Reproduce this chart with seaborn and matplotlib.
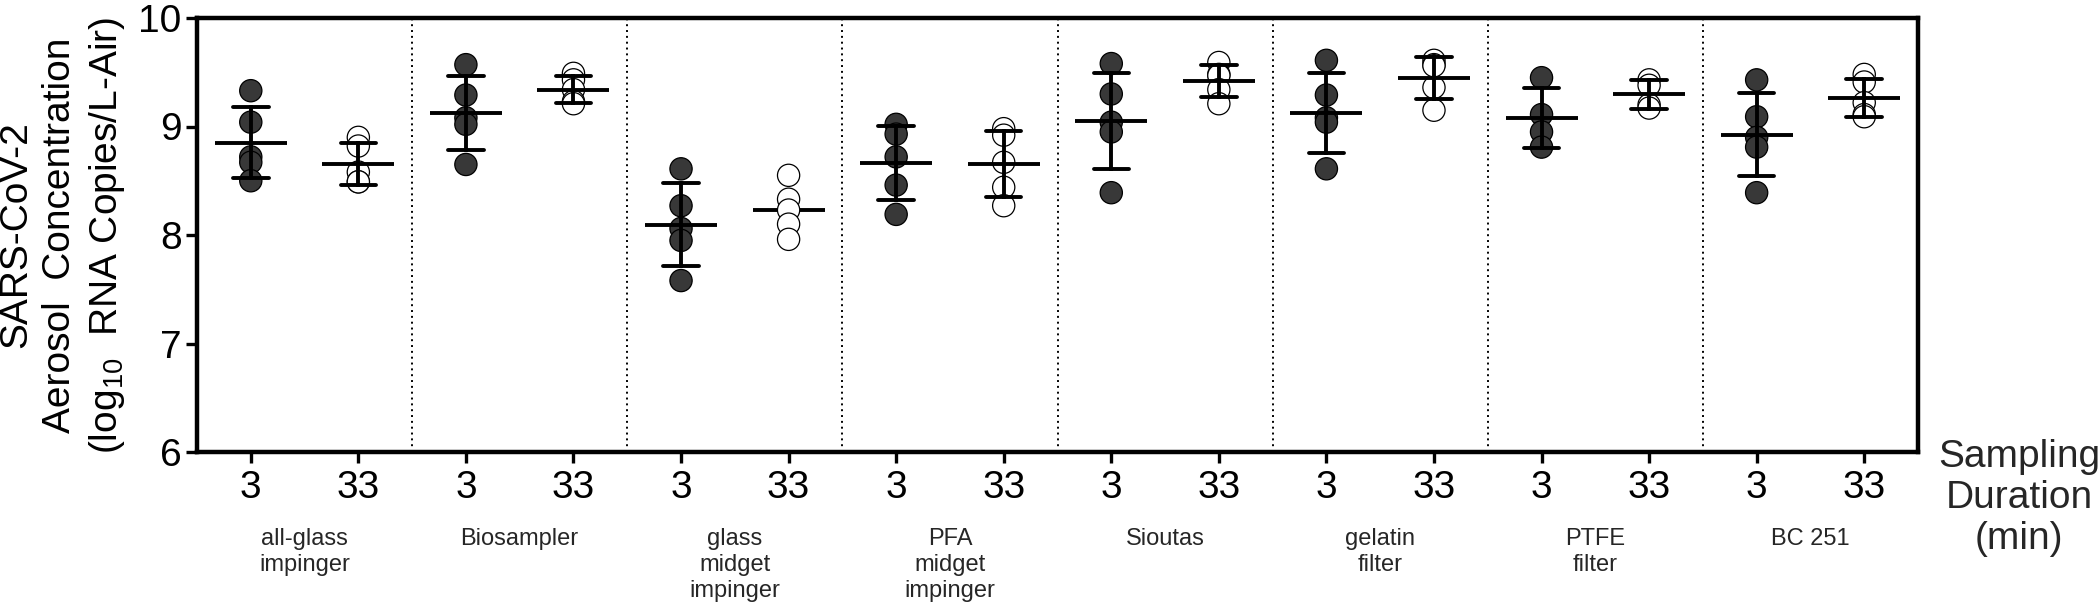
import matplotlib
matplotlib.use("Agg")
import matplotlib.pyplot as plt
import pandas as pd
import seaborn as sns

# Muestreadores y tiempos de muestreo (min)
samplers = ["all-glass\nimpinger", "Biosampler", "glass\nmidget\nimpinger",
            "PFA\nmidget\nimpinger", "Sioutas", "gelatin\nfilter",
            "PTFE\nfilter", "BC 251"]
durations = ["3", "33"]

# log10 RNA copies / L-air
conc_3min = [
    [9.33, 9.04, 8.72, 8.67, 8.50],
    [9.57, 9.29, 9.08, 9.02, 8.65],
    [8.61, 8.27, 8.06, 7.95, 7.58],
    [9.02, 8.93, 8.72, 8.46, 8.19],
    [9.58, 9.30, 9.04, 8.95, 8.39],
    [9.61, 9.29, 9.08, 9.04, 8.61],
    [9.45, 9.11, 8.95, 8.81],
    [9.43, 9.09, 8.90, 8.81, 8.39],
]
conc_33min = [
    [8.90, 8.82, 8.58, 8.49, 8.49],
    [9.49, 9.43, 9.34, 9.23, 9.21],
    [8.55, 8.33, 8.23, 8.10, 7.96],
    [8.98, 8.92, 8.67, 8.44, 8.27],
    [9.59, 9.48, 9.47, 9.34, 9.21],
    [9.61, 9.57, 9.56, 9.36, 9.15],
    [9.43, 9.38, 9.20, 9.17],
    [9.48, 9.41, 9.22, 9.11, 9.09],
]
# grupo sin barra de SD en la figura original
no_sd = [("glass\nmidget\nimpinger", "33")]

sns.set_theme(style="white")
plt.rcParams["font.family"] = ["Liberation Sans", "DejaVu Sans"]
plt.rcParams["mathtext.default"] = "regular"

rows = []
for s, v3, v33 in zip(samplers, conc_3min, conc_33min):
    for d, vals in zip(durations, [v3, v33]):
        for v in vals:
            rows.append({"sampler": s, "duration": d, "group": f"{s}|{d}", "conc": v})
df = pd.DataFrame(rows)
cats = [f"{s}|{d}" for s in samplers for d in durations]
hidden = [f"{s}|{d}" for s, d in no_sd]

fig = plt.figure(figsize=(21, 6.14), dpi=100)
ax = fig.add_axes([197 / 2100, 1 - 452 / 614, 1721 / 2100, 434 / 614])

# separadores punteados entre muestreadores
for k in range(1, len(samplers)):
    ax.axvline(2 * k - 0.5, color="black", linestyle=(0, (1, 2)), linewidth=1.4, zorder=1)

sns.stripplot(data=df, x="group", y="conc", order=cats, hue="duration",
              palette={"3": "#383838", "33": "white"}, jitter=False, size=16,
              edgecolor="black", linewidth=0.9, legend=False, ax=ax, zorder=3)

sns.pointplot(data=df[~df["group"].isin(hidden)], x="group", y="conc", order=cats,
              errorbar="sd", capsize=0.33, color="black", linestyle="none",
              marker="_", markersize=52, markeredgewidth=2.8,
              err_kws={"linewidth": 2.8, "zorder": 4}, ax=ax, zorder=4)
sns.pointplot(data=df[df["group"].isin(hidden)], x="group", y="conc", order=cats,
              errorbar=None, color="black", linestyle="none",
              marker="_", markersize=52, markeredgewidth=2.8, ax=ax, zorder=2)

ax.set_xlim(-0.5, len(cats) - 0.5)
ax.set_ylim(6, 10)
ax.set_yticks([6, 7, 8, 9, 10])
ax.set_xticks(range(len(cats)))
ax.set_xticklabels([d for s in samplers for d in durations])
ax.tick_params(direction="out", length=8, width=2.4, bottom=True, left=True,
               labelsize=28, colors="black")
ax.tick_params(axis="x", pad=5)
ax.tick_params(axis="y", pad=3)
for sp in ax.spines.values():
    sp.set_visible(True)
    sp.set_color("black")
    sp.set_linewidth(3.2)

ax.set_xlabel("")
ax.set_ylabel("SARS-CoV-2\nAerosol  Concentration\n(log$_{10}$  RNA Copies/L-Air)",
              fontsize=28, linespacing=1.3, va="center", color="black")
ax.yaxis.set_label_coords(-0.078, 0.5)

for i, s in enumerate(samplers):
    ax.text(2 * i + 0.5, -0.175, s, transform=ax.get_xaxis_transform(),
            ha="center", va="top", fontsize=17, linespacing=1.25)

fig.text(2019 / 2100, 1 - 498 / 614, "Sampling\nDuration\n(min)", ha="center",
         va="center", fontsize=28, linespacing=1.18)

fig.savefig("out.png", dpi=100)
